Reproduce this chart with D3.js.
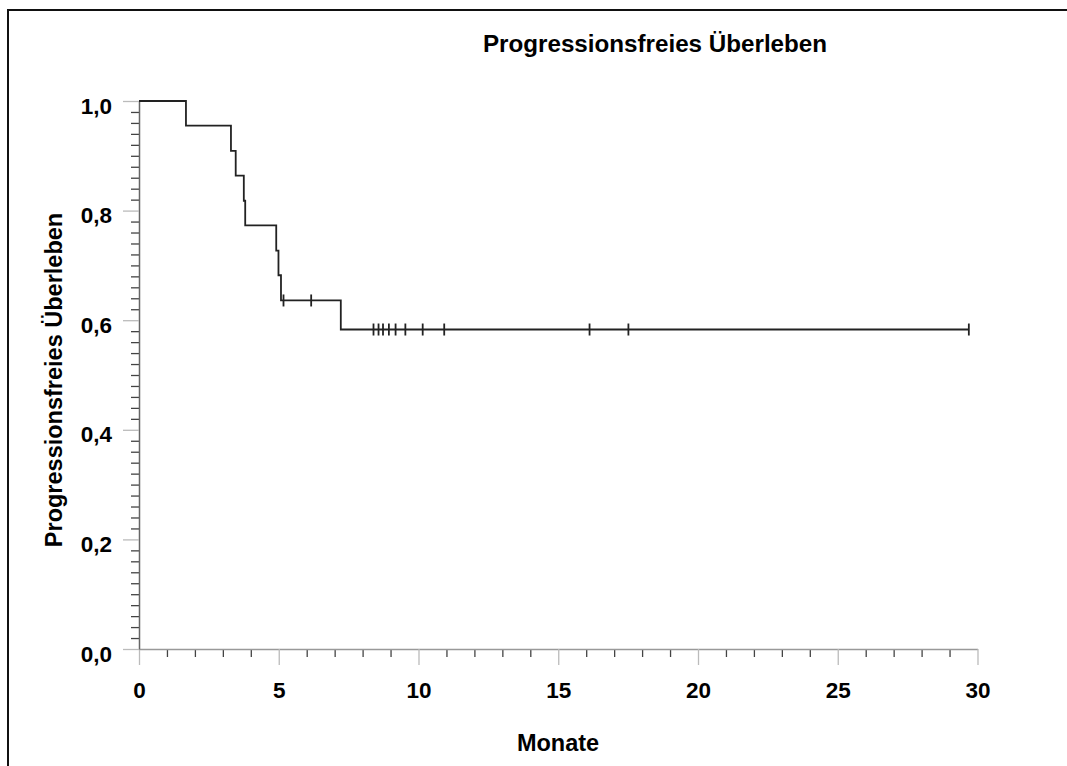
<!DOCTYPE html>
<html>
<head>
<meta charset="utf-8">
<script src="https://cdn.jsdelivr.net/npm/d3@7"></script>
<style>
  html, body { margin: 0; padding: 0; background: #fff; }
  svg { display: block; }
  text { font-family: "Liberation Sans", Arial, sans-serif; fill: #000; }
</style>
</head>
<body>
<svg id="chart" width="1067" height="766"></svg>
<script>
// Kaplan–Meier step curve: times where the estimate drops and the level after each drop
const stepTimes = [0, 1.68, 3.29, 3.46, 3.75, 3.80, 4.91, 4.99, 5.08, 7.22];
const survival  = [1.0, 0.955, 0.909, 0.864, 0.818, 0.773, 0.727, 0.682, 0.636, 0.583];
// censored observations (months)
const censorTimes = [5.17, 6.16, 8.39, 8.57, 8.73, 8.94, 9.18, 9.53, 10.15, 10.92, 16.12, 17.51, 29.69];

const xMajor = [0, 5, 10, 15, 20, 25, 30];
const xMajorLabels = ["0", "5", "10", "15", "20", "25", "30"];
const yMajor = [0, 0.2, 0.4, 0.6, 0.8, 1.0];
const yMajorLabels = ["0,0", "0,2", "0,4", "0,6", "0,8", "1,0"];

const titleText = "Progressionsfreies Überleben";
const xTitle = "Monate";
const yTitle = "Progressionsfreies Überleben";

const svg = d3.select("#chart");

// outer frame
svg.append("rect")
  .attr("x", 8).attr("y", 10)
  .attr("width", 1100).attr("height", 800)
  .attr("fill", "none").attr("stroke", "#111").attr("stroke-width", 2);

const x = d3.scaleLinear().domain([0, 30]).range([139, 977.5]);
const y = d3.scaleLinear().domain([0, 1]).range([649, 101]);

const xMinor = d3.range(0, 31).filter(v => v % 5 !== 0);
const yMinor = d3.range(0, 51).map(i => i / 50).filter((v, i) => i % 10 !== 0);

// minor ticks
svg.append("g").attr("transform", `translate(0,${y(0)})`)
  .call(d3.axisBottom(x).tickValues(xMinor).tickSize(8).tickFormat(""))
  .call(g => g.select(".domain").remove())
  .call(g => g.selectAll("line").attr("stroke", "#444").attr("stroke-width", 1.3));
svg.append("g").attr("transform", `translate(${x(0)},0)`)
  .call(d3.axisLeft(y).tickValues(yMinor).tickSize(8).tickFormat(""))
  .call(g => g.select(".domain").remove())
  .call(g => g.selectAll("line").attr("stroke", "#444").attr("stroke-width", 1.3));

// major ticks with labels
const xAxis = svg.append("g").attr("transform", `translate(0,${y(0)})`)
  .call(d3.axisBottom(x).tickValues(xMajor).tickSizeInner(16).tickSizeOuter(0).tickPadding(17)
    .tickFormat((d, i) => xMajorLabels[i]));
xAxis.select(".domain").attr("stroke", "#999").attr("stroke-width", 1.3);
xAxis.selectAll("line").attr("stroke", "#bbb").attr("stroke-width", 1.3);
xAxis.selectAll("text").attr("font-size", 22.5).attr("font-weight", "bold")
  .attr("font-family", "Liberation Sans, Arial, sans-serif").attr("fill", "#111");

const yAxis = svg.append("g").attr("transform", `translate(${x(0)},0)`)
  .call(d3.axisLeft(y).tickValues(yMajor).tickSizeInner(16).tickSizeOuter(0).tickPadding(11)
    .tickFormat((d, i) => yMajorLabels[i]));
yAxis.select(".domain").attr("stroke", "#666").attr("stroke-width", 1.5);
yAxis.selectAll("line").attr("stroke", "#bbb").attr("stroke-width", 1.3);
yAxis.selectAll("text").attr("font-size", 22.5).attr("font-weight", "bold").attr("dy", "0.54em")
  .attr("font-family", "Liberation Sans, Arial, sans-serif").attr("fill", "#111");

// survival curve
const lastT = d3.max(censorTimes);
const pts = stepTimes.map((t, i) => [t, survival[i]]);
pts.push([lastT, survival[survival.length - 1]]);
svg.append("path")
  .datum(pts)
  .attr("fill", "none").attr("stroke", "#222").attr("stroke-width", 1.8)
  .attr("d", d3.line().x(d => x(d[0])).y(d => y(d[1])).curve(d3.curveStepAfter));

// censor marks
const levelAt = t => survival[d3.bisectRight(stepTimes, t) - 1];
svg.append("g").selectAll("line")
  .data(censorTimes).join("line")
  .attr("x1", d => x(d)).attr("x2", d => x(d))
  .attr("y1", d => y(levelAt(d)) - 6).attr("y2", d => y(levelAt(d)) + 6)
  .attr("stroke", "#222").attr("stroke-width", 1.8);

// titles
svg.append("text")
  .attr("x", 655).attr("y", 52).attr("text-anchor", "middle")
  .attr("font-size", 24.2).attr("font-weight", "bold").attr("fill", "#111")
  .text(titleText);
svg.append("text")
  .attr("x", 558).attr("y", 751).attr("text-anchor", "middle")
  .attr("font-size", 23.5).attr("font-weight", "bold").attr("fill", "#111")
  .text(xTitle);
svg.append("text")
  .attr("transform", "translate(62,380) rotate(-90)").attr("text-anchor", "middle")
  .attr("font-size", 23.5).attr("font-weight", "bold").attr("fill", "#111")
  .text(yTitle);
</script>
</body>
</html>
